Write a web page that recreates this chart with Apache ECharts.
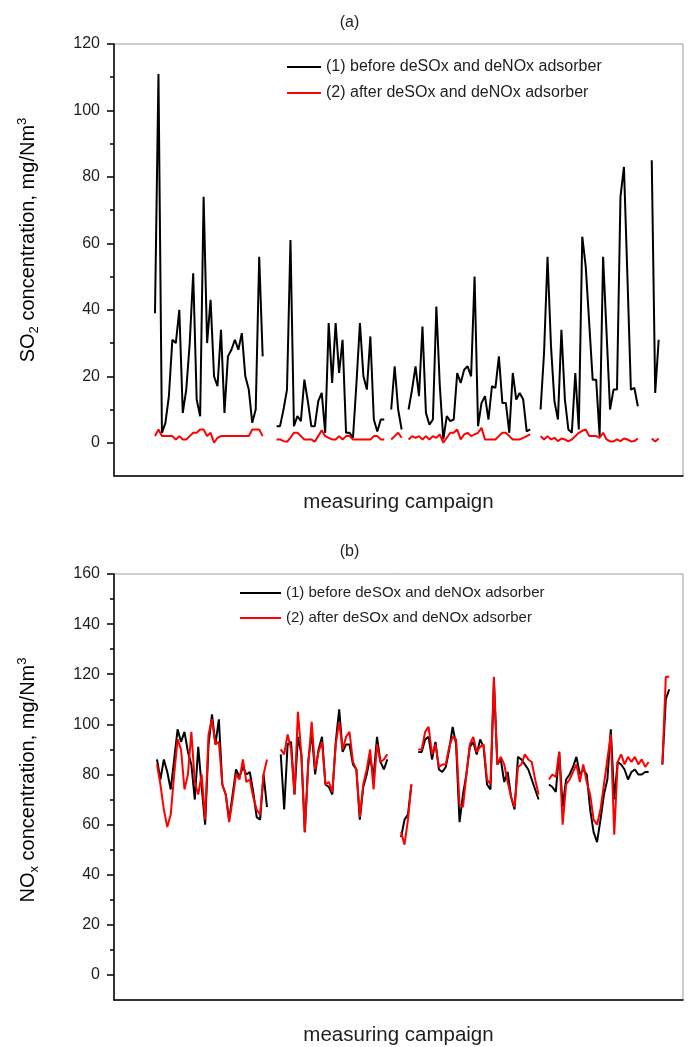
<!DOCTYPE html>
<html>
<head>
<meta charset="utf-8">
<title>SO2 and NOx concentration before and after the deSOx/deNOx adsorber</title>
<script src="https://cdn.jsdelivr.net/npm/echarts@6/dist/echarts.min.js"></script>
<style>
  html, body { margin: 0; padding: 0; background: #fff; }
  #chart { width: 699px; height: 1047px; }
</style>
</head>
<body>
<div id="chart"></div>
<script>
// Series names
const nameBefore = '(1) before deSOx and deNOx adsorber';
const nameAfter = '(2) after deSOx and deNOx adsorber';

// (a) SO2 concentration, mg/Nm3 -- one value per measurement, null = no measurement
const so2Before = [
  39, 111, 3, 6, 14, 31, 30, 40, 9, 16, 30, 51, 13, 8, 74, 30, 43, 20, 17, 34, 9, 26, 28, 31, 28, 33, 20, 16, 6, 10, 56, 26,
  null, null, null,
  5, 5, 10, 16, 61, 5, 8, 6.5, 19, 12.5, 5, 5, 12.5, 15, 3, 36, 18, 36, 21, 31, 3, 3, 1.5, 18, 36, 20, 16, 32, 7, 3.4, 7, 7,
  null,
  10, 23, 10, 4,
  null,
  10, 16, 23, 14, 35, 9, 5.4, 7, 41, 17, 1, 8, 6.5, 7, 21, 18, 22, 23, 20, 50, 5, 12, 14, 7, 17, 16.5, 26, 12, 12, 3, 21, 13, 15, 13, 3.4, 4,
  null, null,
  10, 27, 56, 29, 12.4, 7, 34, 13, 4, 3, 21, 4, 62, 53, 36, 19, 19, 2, 56, 33, 10, 16, 16, 74, 83, 50, 16, 16.5, 11,
  null, null, null,
  85, 15, 31
];
const so2After = [
  2, 4, 2, 2, 2, 2, 1, 2, 1, 1, 2, 3, 3, 4, 4, 2, 3, 0, 1.5, 2, 2, 2, 2, 2, 2, 2, 2, 2, 4, 4, 4, 2,
  null, null, null,
  1, 1, 0.5, 0.3, 1.5, 3, 3, 2, 1, 1, 1, 0.3, 2, 3.8, 2, 1.5, 1, 1, 2, 1, 2, 2, 1, 1, 1, 1, 1, 1, 2, 2, 1, 1,
  null,
  1, 2, 3, 1.5,
  null,
  1, 2, 1.5, 2, 1, 2, 1, 2, 1.5, 2.5, 0, 1.5, 3, 3, 4, 1, 2.5, 3, 2, 2.5, 3, 4.5, 1, 1, 1, 1, 2, 3, 3, 2, 1, 1, 1, 1.5, 2, 2.5,
  null, null,
  2, 1, 2, 1, 1.5, 0.5, 1.3, 1, 0.4, 1, 2, 3, 3.6, 4, 2, 2, 2, 1.5, 3, 1, 0.4, 0.4, 1, 0.5, 1.3, 1, 0.4, 0.5, 1.3,
  null, null, null,
  1.3, 0.4, 1.3
];

// (b) NOx concentration, mg/Nm3
const noxBefore = [
  86, 78, 86, 81, 74, 86, 98, 93, 97, 89, 84, 70, 91, 75, 60, 92, 104, 92, 102, 76, 72, 62, 72, 82, 79, 83, 80, 81, 73, 63, 62, 80, 67,
  null, null, null,
  88, 66, 92, 93, 72, 95, 88, 57, 85, 97, 80, 90, 95, 76, 75, 72, 93, 106, 89, 92, 92, 84, 82, 62, 75, 80, 87, 79, 95, 85, 82, 86,
  null, null, null,
  55, 62, 64, 76,
  null,
  89, 89, 94, 95, 86, 93, 82, 81, 83, 90, 99, 92, 61, 72, 80, 91, 93, 88, 94, 91, 76, 74, 117, 84, 86, 77, 81, 71, 66, 87, 86, 84, 82, 78, 74, 70,
  null, null,
  76, 75, 73, 89, 67, 78, 80, 83, 87, 80, 82, 80, 66, 57, 53, 62, 72, 78, 98, 70, 85, 84, 82, 78, 81, 82, 80, 80, 81, 81,
  null, null, null,
  84, 110, 114
];
const noxAfter = [
  84, 76, 66, 59, 64, 80, 94, 90, 74, 80, 97, 77, 72, 80, 62, 96, 102, 92, 93, 76, 72, 61, 70, 80, 78, 86, 77, 78, 71, 66, 64, 80, 86,
  null, null, null,
  90, 88, 96, 90, 72, 105, 88, 57, 84, 101, 82, 89, 93, 76, 77, 73, 92, 101, 90, 95, 97, 85, 82, 63, 76, 82, 90, 74, 92, 85, 86, 88,
  null, null, null,
  57, 52, 62, 76,
  null,
  90, 90, 97, 99, 88, 92, 83, 84, 84, 91, 95, 94, 68, 67, 80, 92, 95, 89, 91, 92, 78, 76, 119, 84, 87, 84, 77, 71, 67, 83, 84, 88, 86, 85, 78, 72,
  null, null,
  78, 80, 79, 89, 60, 76, 78, 81, 84, 77, 84, 77, 72, 62, 60, 66, 76, 86, 96, 56, 85, 88, 84, 87, 85, 87, 84, 86, 83, 85,
  null, null, null,
  84, 119, 119
];

// Tick values
const so2MajorTicks = [0, 20, 40, 60, 80, 100, 120];
const so2MinorTicks = [10, 30, 50, 70, 90, 110];
const noxMajorTicks = [0, 20, 40, 60, 80, 100, 120, 140, 160];
const noxMinorTicks = [10, 30, 50, 70, 90, 110, 130, 150];

const FONT = "'Liberation Sans', Arial, Helvetica, sans-serif";
const TEXT = '#1e1e1e';

// measurement number -> [x, y]; gaps become '-' so the line breaks there
function toPairs(values) {
  return values.map((v, i) => [i, v == null ? '-' : v]);
}

function lineSeries(name, values, color, gi) {
  return {
    name: name,
    type: 'line',
    xAxisIndex: gi,
    yAxisIndex: gi * 2,
    data: toPairs(values),
    symbol: 'none',
    connectNulls: false,
    lineStyle: { color: color, width: 2 },
    itemStyle: { color: color },
    z: color === '#ff0000' ? 3 : 2
  };
}

function xAxisFor(gi, min, max, gap) {
  return {
    type: 'value', gridIndex: gi, min: min, max: max,
    axisLine: { onZero: false, lineStyle: { color: '#000', width: 1.5 } },
    axisTick: { show: false }, axisLabel: { show: false }, splitLine: { show: false },
    name: 'measuring campaign', nameLocation: 'middle', nameGap: gap,
    nameTextStyle: { fontFamily: FONT, fontSize: 20.5, color: TEXT }
  };
}

function yAxesFor(gi, min, max, major, minor) {
  return [
    {
      type: 'value', gridIndex: gi, min: min, max: max, position: 'left',
      axisLine: { onZero: false, lineStyle: { color: '#000', width: 1.5 } },
      axisTick: { customValues: major, length: 7, lineStyle: { color: '#000', width: 1.5 } },
      axisLabel: { customValues: major, margin: 14, fontFamily: FONT, fontSize: 16, color: TEXT },
      splitLine: { show: false }
    },
    {
      type: 'value', gridIndex: gi, min: min, max: max, position: 'left',
      axisLine: { show: false, onZero: false },
      axisTick: { customValues: minor, length: 4, lineStyle: { color: '#000', width: 1.5 } },
      axisLabel: { show: false },
      splitLine: { show: false }
    }
  ];
}

// Rotated axis title with a chemical subscript and a superscript 3
function yName(head, sub, tail, cx, cy) {
  return {
    type: 'text', x: cx, y: cy, rotation: Math.PI / 2,
    style: {
      text: '{n|' + head + '}{sub|' + sub + '}{n|' + tail + '}{sup|3}',
      align: 'center', verticalAlign: 'middle',
      rich: {
        n: { fontFamily: FONT, fontSize: 20, color: TEXT, lineHeight: 25 },
        sub: { fontFamily: FONT, fontSize: 13, color: TEXT, lineHeight: 12, verticalAlign: 'bottom' },
        sup: { fontFamily: FONT, fontSize: 13, color: TEXT, lineHeight: 12, verticalAlign: 'top' }
      }
    }
  };
}

const chart = echarts.init(document.getElementById('chart'), null, { renderer: 'canvas' });

chart.setOption({
  animation: false,
  backgroundColor: '#fff',
  title: [
    { text: '(a)', left: 'center', top: 10, textStyle: { fontFamily: FONT, fontSize: 16, fontWeight: 'normal', color: TEXT } },
    { text: '(b)', left: 'center', top: 539, textStyle: { fontFamily: FONT, fontSize: 16, fontWeight: 'normal', color: TEXT } }
  ],
  legend: [
    {
      orient: 'vertical', left: 287, top: 59, padding: 0, itemWidth: 34, itemHeight: 2, itemGap: 10,
      icon: 'rect', selectedMode: false, data: [nameBefore, nameAfter],
      textStyle: { fontFamily: FONT, fontSize: 16, color: TEXT, lineHeight: 16 }
    },
    {
      orient: 'vertical', left: 240, top: 585, padding: 0, itemWidth: 41, itemHeight: 2, itemGap: 9,
      icon: 'rect', selectedMode: false, data: [nameBefore, nameAfter],
      textStyle: { fontFamily: FONT, fontSize: 15, color: TEXT, lineHeight: 16 }
    }
  ],
  grid: [
    { left: 114, top: 44, width: 569, height: 432, show: true, borderColor: '#9a9a9a', borderWidth: 1 },
    { left: 114, top: 574, width: 569, height: 428, show: true, borderColor: '#9a9a9a', borderWidth: 1 }
  ],
  xAxis: [
    xAxisFor(0, -11.8, 152, 16),
    xAxisFor(1, -12.5, 153, 25)
  ],
  yAxis: [].concat(
    yAxesFor(0, -10, 120, so2MajorTicks, so2MinorTicks),
    yAxesFor(1, -10, 160, noxMajorTicks, noxMinorTicks)
  ),
  series: [
    lineSeries(nameBefore, so2Before, '#000000', 0),
    lineSeries(nameAfter, so2After, '#ff0000', 0),
    lineSeries(nameBefore, noxBefore, '#000000', 1),
    lineSeries(nameAfter, noxAfter, '#ff0000', 1)
  ],
  graphic: [
    yName('SO', '2', ' concentration, mg/Nm', 28, 240),
    yName('NO', 'x', ' concentration, mg/Nm', 28, 780)
  ]
});
</script>
</body>
</html>
